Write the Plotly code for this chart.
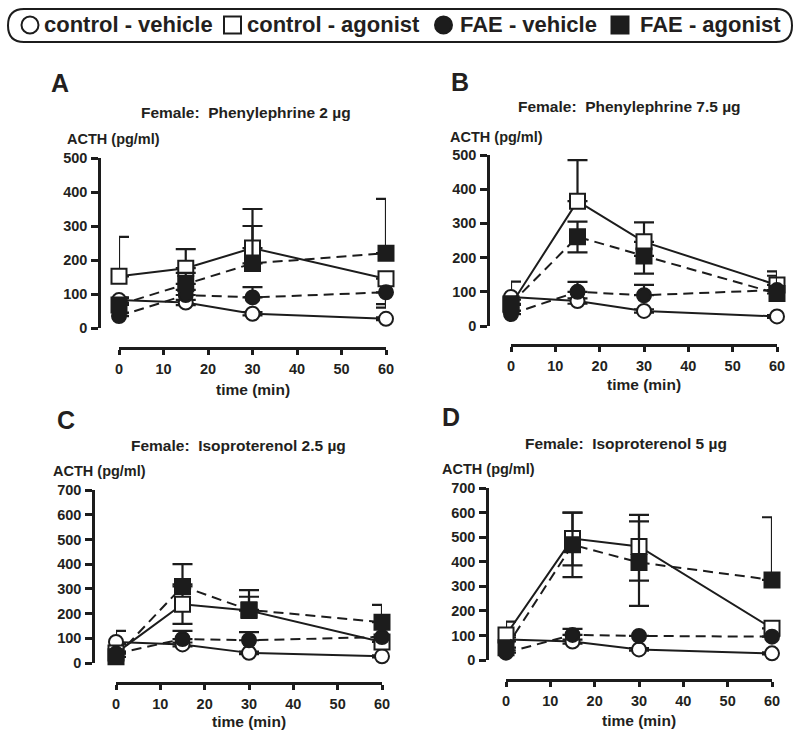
import plotly.graph_objects as go

W, H = 800, 736
BLACK = "#1c1c1c"
TXT = "#231f20"
FONT = "Liberation Sans, Arial, Helvetica, sans-serif"

# ---------------- data ----------------
times = [0, 15, 30, 60]
series_names = ["control - vehicle", "control - agonist", "FAE - vehicle", "FAE - agonist"]
panel_letters = ["A", "B", "C", "D"]
panel_titles = ["Female:\u00a0 Phenylephrine 2 \u00b5g", "Female:\u00a0 Phenylephrine 7.5 \u00b5g",
                "Female:\u00a0 Isoproterenol 2.5 \u00b5g", "Female:\u00a0 Isoproterenol 5 \u00b5g"]
y_label = "ACTH (pg/ml)"
x_label = "time (min)"
x_ticks = [0, 10, 20, 30, 40, 50, 60]
y_ticks_ab = [0, 100, 200, 300, 400, 500]
y_ticks_cd = [0, 100, 200, 300, 400, 500, 600, 700]

# Panel A
a_ctrl_veh = [82, 75, 42, 27]
a_ctrl_ago = [152, 176, 235, 145]
a_fae_veh = [35, 97, 90, 105]
a_fae_ago = [68, 130, 190, 220]
a_ctrl_veh_up = [8, 8, 5, 4]
a_ctrl_veh_dn = [8, 8, 5, 4]
a_ctrl_ago_up = [116, 56, 115, 0]
a_ctrl_ago_dn = [0, 0, 0, 85]
a_fae_veh_up = [10, 15, 30, 0]
a_fae_veh_dn = [0, 0, 0, 35]
a_fae_ago_up = [20, 32, 110, 160]
a_fae_ago_dn = [0, 0, 0, 0]

# Panel B
b_ctrl_veh = [85, 73, 44, 28]
b_ctrl_ago = [62, 365, 246, 120]
b_fae_veh = [35, 100, 90, 105]
b_fae_ago = [65, 261, 205, 95]
b_ctrl_veh_up = [45, 8, 5, 4]
b_ctrl_veh_dn = [8, 8, 5, 4]
b_ctrl_ago_up = [0, 120, 57, 40]
b_ctrl_ago_dn = [0, 0, 0, 0]
b_fae_veh_up = [10, 29, 30, 0]
b_fae_veh_dn = [0, 0, 0, 0]
b_fae_ago_up = [0, 44, 0, 52]
b_fae_ago_dn = [0, 46, 52, 0]

# Panel C
c_ctrl_veh = [85, 75, 41, 27]
c_ctrl_ago = [40, 238, 212, 85]
c_fae_veh = [38, 97, 92, 105]
c_fae_ago = [25, 310, 215, 165]
c_ctrl_veh_up = [45, 8, 5, 4]
c_ctrl_veh_dn = [8, 8, 5, 4]
c_ctrl_ago_up = [0, 80, 83, 0]
c_ctrl_ago_dn = [0, 80, 0, 0]
c_fae_veh_up = [8, 33, 33, 0]
c_fae_veh_dn = [0, 0, 0, 0]
c_fae_ago_up = [0, 90, 53, 70]
c_fae_ago_dn = [0, 0, 0, 0]

# Panel D
d_ctrl_veh = [84, 75, 43, 27]
d_ctrl_ago = [102, 494, 462, 129]
d_fae_veh = [30, 102, 98, 95]
d_fae_ago = [50, 469, 397, 326]
d_ctrl_veh_up = [8, 8, 5, 4]
d_ctrl_veh_dn = [8, 8, 5, 4]
d_ctrl_ago_up = [54, 106, 102, 0]
d_ctrl_ago_dn = [0, 109, 139, 0]
d_fae_veh_up = [0, 25, 0, 0]
d_fae_veh_dn = [0, 0, 0, 0]
d_fae_ago_up = [0, 131, 194, 255]
d_fae_ago_dn = [0, 132, 177, 0]

# ---------------- layout geometry (pixels) ----------------
def fx(p):
    return p / W


def fy(p):
    return 1 - p / H


panels = [
    dict(vals=[a_ctrl_veh, a_ctrl_ago, a_fae_veh, a_fae_ago],
         up=[a_ctrl_veh_up, a_ctrl_ago_up, a_fae_veh_up, a_fae_ago_up],
         dn=[a_ctrl_veh_dn, a_ctrl_ago_dn, a_fae_veh_dn, a_fae_ago_dn],
         yticks=y_ticks_ab, yline=99, xl=119, xr=386, ytop=158, ybot=328, xline=348,
         letter=(60, 83), title=(246, 112), ylab=(114, 139), xlab=(253, 389)),
    dict(vals=[b_ctrl_veh, b_ctrl_ago, b_fae_veh, b_fae_ago],
         up=[b_ctrl_veh_up, b_ctrl_ago_up, b_fae_veh_up, b_fae_ago_up],
         dn=[b_ctrl_veh_dn, b_ctrl_ago_dn, b_fae_veh_dn, b_fae_ago_dn],
         yticks=y_ticks_ab, yline=488, xl=511, xr=777, ytop=155, ybot=326, xline=345,
         letter=(460, 82), title=(629, 107), ylab=(496, 137), xlab=(644, 384)),
    dict(vals=[c_ctrl_veh, c_ctrl_ago, c_fae_veh, c_fae_ago],
         up=[c_ctrl_veh_up, c_ctrl_ago_up, c_fae_veh_up, c_fae_ago_up],
         dn=[c_ctrl_veh_dn, c_ctrl_ago_dn, c_fae_veh_dn, c_fae_ago_dn],
         yticks=y_ticks_cd, yline=93, xl=116, xr=382, ytop=490, ybot=663, xline=683,
         letter=(66, 420), title=(238, 445), ylab=(99, 471), xlab=(249, 721)),
    dict(vals=[d_ctrl_veh, d_ctrl_ago, d_fae_veh, d_fae_ago],
         up=[d_ctrl_veh_up, d_ctrl_ago_up, d_fae_veh_up, d_fae_ago_up],
         dn=[d_ctrl_veh_dn, d_ctrl_ago_dn, d_fae_veh_dn, d_fae_ago_dn],
         yticks=y_ticks_cd, yline=487, xl=506, xr=772, ytop=488, ybot=660, xline=680,
         letter=(451, 417), title=(626, 443), ylab=(488, 469), xlab=(639, 720)),
]

styles = [
    dict(symbol="circle", size=14, fill="white", dash="solid"),
    dict(symbol="square", size=15, fill="white", dash="solid"),
    dict(symbol="circle", size=14, fill=BLACK, dash="10px,6px"),
    dict(symbol="square", size=15, fill=BLACK, dash="10px,6px"),
]

fig = go.Figure()
layout = dict(
    width=W, height=H, margin=dict(l=0, r=0, t=0, b=0, autoexpand=False),
    paper_bgcolor="white", plot_bgcolor="rgba(0,0,0,0)",
    showlegend=False, font=dict(family=FONT, color=TXT),
)
annotations = []
shapes = []

for i, p in enumerate(panels, start=1):
    xa = "x" if i == 1 else f"x{i}"
    ya = "y" if i == 1 else f"y{i}"
    for k in range(4):
        st = styles[k]
        fig.add_trace(go.Scatter(
            x=times, y=p["vals"][k], name=series_names[k], mode="lines+markers",
            xaxis=xa, yaxis=ya, cliponaxis=False,
            line=dict(color=BLACK, width=2, dash=st["dash"]),
            marker=dict(symbol=st["symbol"], size=st["size"], color=st["fill"],
                        line=dict(color=BLACK, width=2)),
            error_y=dict(type="data", symmetric=False, array=p["up"][k], arrayminus=p["dn"][k],
                         color=BLACK, thickness=2.2, width=10),
        ))
    ymax = p["yticks"][-1]
    layout["xaxis" if i == 1 else f"xaxis{i}"] = dict(
        domain=[fx(p["xl"]), fx(p["xr"])], range=[0, 60], anchor="free", position=fy(p["xline"]),
        tickvals=x_ticks, ticks="outside", ticklen=5, tickwidth=2.5, tickcolor=BLACK,
        showline=True, linewidth=2.5, linecolor=BLACK, showgrid=False, zeroline=False,
        tickfont=dict(family=FONT, size=14.5, color=TXT, weight="bold"), ticklabelstandoff=2,
        fixedrange=True, automargin=False,
    )
    layout["yaxis" if i == 1 else f"yaxis{i}"] = dict(
        domain=[fy(p["ybot"]), fy(p["ytop"])], range=[0, ymax], anchor="free", position=fx(p["yline"]),
        tickvals=p["yticks"], ticks="outside", ticklen=7, tickwidth=2.5, tickcolor=BLACK,
        showline=True, linewidth=2.5, linecolor=BLACK, showgrid=False, zeroline=False,
        tickfont=dict(family=FONT, size=14.5, color=TXT, weight="bold"), ticklabelstandoff=1,
        fixedrange=True, automargin=False,
    )
    L = panel_letters[i - 1]
    annotations.append(dict(text=f"<b>{L}</b>", x=fx(p["letter"][0]), y=fy(p["letter"][1]),
                            xref="paper", yref="paper", showarrow=False, xanchor="center", yanchor="middle",
                            font=dict(size=25, family=FONT, color=TXT)))
    annotations.append(dict(text=f"<b>{panel_titles[i - 1]}</b>", x=fx(p["title"][0]), y=fy(p["title"][1]),
                            xref="paper", yref="paper", showarrow=False, xanchor="center", yanchor="middle",
                            font=dict(size=15.5, family=FONT, color=TXT)))
    annotations.append(dict(text=f"<b>{y_label}</b>", x=fx(p["ylab"][0]), y=fy(p["ylab"][1]),
                            xref="paper", yref="paper", showarrow=False, xanchor="center", yanchor="middle",
                            font=dict(size=14.5, family=FONT, color=TXT)))
    annotations.append(dict(text=f"<b>{x_label}</b>", x=fx(p["xlab"][0]), y=fy(p["xlab"][1]),
                            xref="paper", yref="paper", showarrow=False, xanchor="center", yanchor="middle",
                            font=dict(size=15.5, family=FONT, color=TXT)))

# ---------------- custom legend (rounded box) ----------------
bx0, bx1, by0, by1, r = 8, 792, 9, 42, 16
pill = (f"M {fx(bx0 + r)},{fy(by0)} L {fx(bx1 - r)},{fy(by0)} "
        f"Q {fx(bx1)},{fy(by0)} {fx(bx1)},{fy((by0 + by1) / 2)} "
        f"Q {fx(bx1)},{fy(by1)} {fx(bx1 - r)},{fy(by1)} "
        f"L {fx(bx0 + r)},{fy(by1)} Q {fx(bx0)},{fy(by1)} {fx(bx0)},{fy((by0 + by1) / 2)} "
        f"Q {fx(bx0)},{fy(by0)} {fx(bx0 + r)},{fy(by0)} Z")
shapes.append(dict(type="path", path=pill, xref="paper", yref="paper",
                   line=dict(color=BLACK, width=2), fillcolor="rgba(0,0,0,0)"))

legend_items = [
    ("circle", "white", 30, 42),
    ("rect", "white", 232.5, 245),
    ("circle", BLACK, 443.5, 458),
    ("rect", BLACK, 620, 638),
]
cy = 25
for (kind, fill, cx, tx), name in zip(legend_items, series_names):
    hs = 8.5
    shapes.append(dict(type=kind, xref="paper", yref="paper",
                       x0=fx(cx - hs), x1=fx(cx + hs), y0=fy(cy + hs), y1=fy(cy - hs),
                       line=dict(color=BLACK, width=2), fillcolor=fill))
    annotations.append(dict(text=f"<b>{name}</b>", x=fx(tx), y=fy(cy), xref="paper", yref="paper",
                            showarrow=False, xanchor="left", yanchor="middle",
                            font=dict(size=22, family=FONT, color=TXT)))

layout["annotations"] = annotations
layout["shapes"] = shapes
fig.update_layout(**layout)
fig.write_html("out.html", config={"displayModeBar": False},
               post_script="document.body.style.margin='0';document.body.style.padding='0';")
